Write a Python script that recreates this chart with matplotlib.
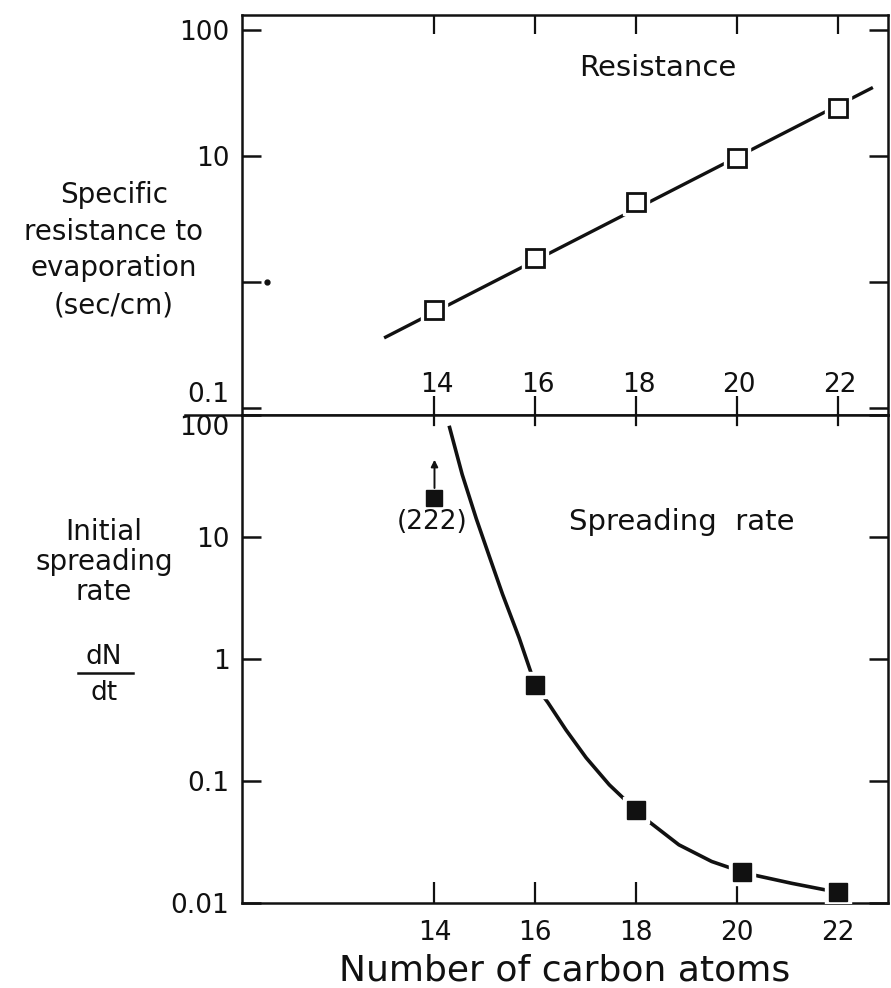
import numpy as np
import matplotlib
matplotlib.use("Agg")
import matplotlib.pyplot as plt
from matplotlib.lines import Line2D
from matplotlib.ticker import NullLocator, FixedLocator, FixedFormatter

plt.rcParams['font.family'] = ['DejaVu Sans']

# ---- data -------------------------------------------------------------
carbon_ticks = [14, 16, 18, 20, 22]

# specific resistance to evaporation (sec/cm)
res_carbons = [14, 16, 18, 20, 22]
res_values = [0.60, 1.55, 4.3, 9.6, 24.0]
res_line_carbons = [13.0, 22.7]
res_line_values = [0.36, 35.0]

# initial spreading rate dN/dt
spread_carbons = [16, 18, 20.1, 22]
spread_values = [0.61, 0.058, 0.018, 0.0123]
c14_carbon = 14
c14_value = 21.0          # lower bound; measured value 222
c14_arrow_tip = 43.0
c14_label = "(222)"

curve_carbons = [14.30, 14.55, 14.83, 15.09, 15.35, 15.68, 16.0, 16.25, 16.61,
                 17.01, 17.47, 17.80, 18.0, 18.24, 18.85, 19.5, 20.1, 20.38,
                 21.09, 21.76, 22.0]
curve_values = [79, 32.5, 14.1, 6.9, 3.4, 1.49, 0.61, 0.44, 0.262,
                0.155, 0.093, 0.069, 0.058, 0.047, 0.030, 0.0219, 0.018, 0.0168,
                0.0145, 0.0128, 0.0123]

res_yticks = [0.1, 1, 10, 100]
res_yticklabels = ["0.1", "", "10", "100"]
spread_yticks = [0.01, 0.1, 1, 10, 100]
spread_yticklabels = ["0.01", "0.1", "1", "10", "100"]

# ---- figure -----------------------------------------------------------
W, H = 891, 988
fig = plt.figure(figsize=(W / 100, H / 100), dpi=100)
fig.patch.set_facecolor("white")

left, right = 242, 888
top1, mid, bot2 = 15, 415, 903
ax1 = fig.add_axes([left / W, 1 - mid / H, (right - left) / W, (mid - top1) / H])
ax2 = fig.add_axes([left / W, 1 - bot2 / H, (right - left) / W, (bot2 - mid) / H])

ink = "#111111"
tick_fs = 19
text_fs = 21

for ax in (ax1, ax2):
    ax.set_yscale("log")
    ax.set_xlim(10.18, 23.0)
    for s in ax.spines.values():
        s.set_linewidth(1.8)
        s.set_color(ink)
    ax.yaxis.set_minor_locator(NullLocator())
    ax.xaxis.set_minor_locator(NullLocator())
    ax.set_xticks(carbon_ticks)

# top panel ------------------------------------------------------------
ax1.set_ylim(0.088, 131.6)
ax1.yaxis.set_major_locator(FixedLocator(res_yticks))
ax1.yaxis.set_major_formatter(FixedFormatter(res_yticklabels))
ax1.tick_params(axis="y", direction="in", length=14, width=1.8, left=True, right=True,
                labelsize=tick_fs, pad=9, colors=ink)
ax1.tick_params(axis="x", direction="in", length=14, width=1.6, top=True, bottom=True,
                labelbottom=False, colors=ink)
for lab in ax1.get_yticklabels():
    if lab.get_text() == "0.1":
        lab.set_va("bottom")

for c in carbon_ticks:
    ax1.text(c + 0.05, 0.075, f"{c}", transform=ax1.get_xaxis_transform(),
             ha="center", va="center", fontsize=tick_fs, color=ink)

ax1.plot(res_line_carbons, res_line_values, color=ink, lw=2.4, zorder=2,
         solid_capstyle="butt")
ax1.plot(res_carbons, res_values, ls="none", marker="s", ms=19, mfc="white",
         mec="white", zorder=3)
ax1.plot(res_carbons, res_values, ls="none", marker="s", ms=13, mfc="white",
         mec=ink, mew=2.0, zorder=4)
ax1.plot([10.67], [1.0], ls="none", marker="o", ms=3.5, color=ink)
ax1.text(0.644, 0.868, "Resistance", transform=ax1.transAxes, ha="center",
         va="center", fontsize=text_fs, color=ink)

# bottom panel ---------------------------------------------------------
ax2.set_ylim(0.01, 100)
ax2.yaxis.set_major_locator(FixedLocator(spread_yticks))
ax2.yaxis.set_major_formatter(FixedFormatter(spread_yticklabels))
ax2.tick_params(axis="y", direction="in", length=14, width=1.8, left=True, right=True,
                labelsize=tick_fs, pad=9, colors=ink)
ax2.tick_params(axis="x", which="major", direction="in", length=15, width=1.6,
                bottom=True, top=False, labelsize=tick_fs, pad=12, colors=ink)
ax2.set_xticklabels([f"{c}" for c in carbon_ticks])
for lab in ax2.get_yticklabels():
    if lab.get_text() == "100":
        lab.set_va("top")

ax2.plot(curve_carbons, curve_values, color=ink, lw=2.6, zorder=2)
ax2.plot(spread_carbons, spread_values, ls="none", marker="s", ms=19, mfc="white",
         mec="white", zorder=3)
ax2.plot(spread_carbons, spread_values, ls="none", marker="s", ms=12.5, mfc=ink,
         mec=ink, zorder=4)
ax2.plot([c14_carbon], [c14_value], ls="none", marker="s", ms=12, mfc=ink, mec=ink,
         zorder=4)
ax2.annotate("", xy=(c14_carbon, c14_arrow_tip), xytext=(c14_carbon, c14_value * 1.2),
             arrowprops=dict(arrowstyle="-|>", color=ink, lw=1.4, mutation_scale=10,
                             shrinkA=0, shrinkB=0))
ax2.text(c14_carbon - 0.05, 13.3, c14_label, ha="center", va="center",
         fontsize=tick_fs, color=ink)
ax2.text(0.68, 0.781, "Spreading  rate", transform=ax2.transAxes, ha="center",
         va="center", fontsize=text_fs, color=ink)

# ticks crossing the shared boundary from below
for c in carbon_ticks:
    ax2.plot([c, c], [1, 1 - 10 / (bot2 - mid)], transform=ax2.get_xaxis_transform(),
             color=ink, lw=1.6, clip_on=False)

# separator stub to the left of the shared boundary
fig.add_artist(Line2D([185 / W, left / W], [1 - mid / H, 1 - mid / H], color=ink, lw=1.8))

# axis titles --------------------------------------------------------
fig.text(114 / W, 1 - 250 / H, "Specific\nresistance to\nevaporation\n(sec/cm)",
         ha="center", va="center", fontsize=text_fs - 1, linespacing=1.4, color=ink)
fig.text(104 / W, 1 - 562 / H, "Initial\nspreading\nrate",
         ha="center", va="center", fontsize=text_fs - 1, linespacing=1.1, color=ink)
fig.text(104 / W, 1 - 657 / H, "dN", ha="center", va="center", fontsize=text_fs - 2,
         color=ink)
fig.add_artist(Line2D([78 / W, 133 / W], [1 - 673 / H, 1 - 673 / H], color=ink, lw=1.8))
fig.text(104 / W, 1 - 693 / H, "dt", ha="center", va="center", fontsize=text_fs - 2,
         color=ink)

fig.text(565 / W, 1 - 970 / H, "Number of carbon atoms", ha="center", va="center",
         fontsize=26, color=ink)

fig.savefig("out.png", dpi=100, facecolor="white")
